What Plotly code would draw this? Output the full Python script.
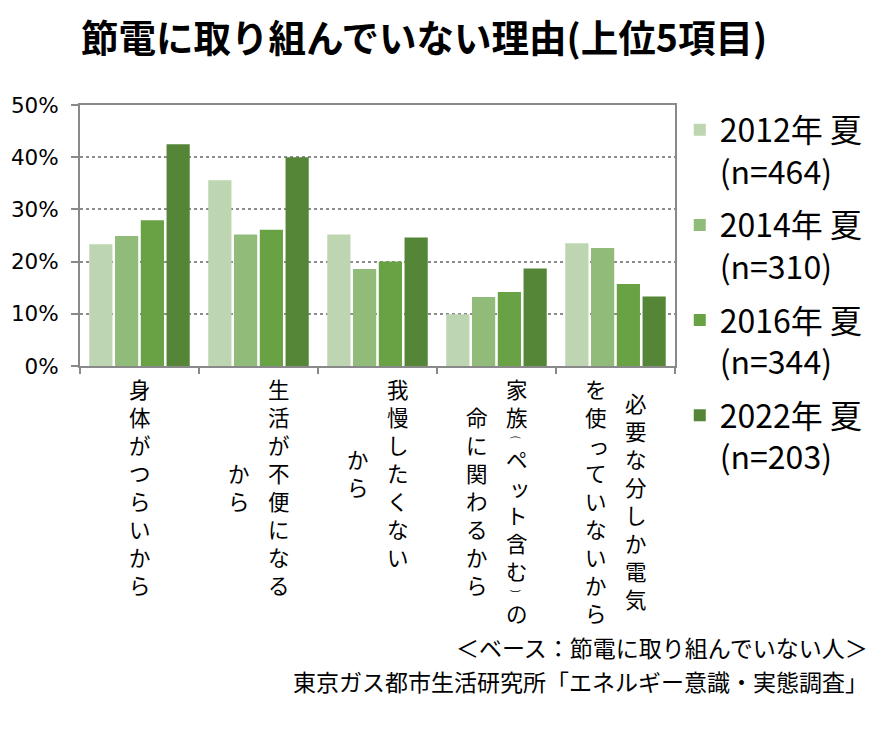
import plotly.graph_objects as go

# reasons (columns of the vertical label are split by "|", first column is the rightmost)
categories = [
    "身体がつらいから",
    "生活が不便になる|から",
    "我慢したくない|から",
    "家族(ペット含む)の|命に関わるから",
    "必要な分しか電気|を使っていないから",
]
series_names = ["2012年 夏<br>(n=464)", "2014年 夏<br>(n=310)",
                "2016年 夏<br>(n=344)", "2022年 夏<br>(n=203)"]
y2012 = [23.3, 35.6, 25.2, 9.9, 23.5]
y2014 = [24.9, 25.2, 18.6, 13.2, 22.6]
y2016 = [27.9, 26.1, 20.0, 14.2, 15.7]
y2022 = [42.5, 40.0, 24.6, 18.7, 13.3]
y_ticks = [0, 10, 20, 30, 40, 50]
y_ticktext = [f"{v}%" for v in y_ticks]

colors = ["#bdd5b0", "#91bb79", "#69a244", "#558536"]
JP = "Noto Sans CJK JP"

fig = go.Figure()
for name, vals, col in zip(series_names, [y2012, y2014, y2016, y2022], colors):
    fig.add_trace(go.Bar(x=categories, y=vals, name=name, legendgroup=name,
                         marker=dict(color=col, line=dict(width=0))))

# vertical (tategaki) category labels, one annotation per character
lab_size = 21.5
pitch = 28
small_kana = "っッゃゅょャュョ"
parens = "()"


def advance(ch):
    return 14 if ch in parens else pitch


annotations = []
for cat in categories:
    cols = cat.split("|")
    heights = [sum(advance(c) for c in col) for col in cols]
    block = max(heights)
    n = len(cols)
    for j, col in enumerate(cols):
        xs = ((n - 1) / 2 - j) * 40
        pos = 8 + (block - heights[j]) / 2
        for ch in col:
            a = advance(ch)
            annotations.append(dict(
                x=cat, xref="x", y=0, yref="paper", yanchor="middle",
                xanchor="center", showarrow=False, text=ch, borderpad=0,
                textangle=90 if ch in parens else 0,
                xshift=xs + (3 if ch in small_kana else 0),
                yshift=-(pos + a / 2),
                font=dict(family=JP, size=10.5 if ch in parens else lab_size,
                          color="#000000")))
            pos += a

annotations.append(dict(
    text="節電に取り組んでいない理由(上位5項目)", xref="paper", yref="paper",
    x=-0.002, y=1, xanchor="left", yanchor="middle", yshift=70, showarrow=False,
    font=dict(family=JP, size=37.5, color="#000000", weight="bold")))
annotations.append(dict(
    text="＜ベース：節電に取り組んでいない人＞", xref="paper", yref="paper",
    x=1, y=0, xanchor="right", yanchor="middle", xshift=195, yshift=-281,
    showarrow=False, font=dict(family=JP, size=23, color="#000000")))
annotations.append(dict(
    text="東京ガス都市生活研究所「エネルギー意識・実態調査」", xref="paper", yref="paper",
    x=1, y=0, xanchor="right", yanchor="middle", xshift=195, yshift=-315,
    showarrow=False, font=dict(family=JP, size=23, color="#000000")))

# the page body adds an 8px margin, so the figure is 8px smaller on each axis
fig.update_layout(
    width=888, height=722, autosize=False,
    margin=dict(l=72, r=221, t=97, b=364, autoexpand=False),
    paper_bgcolor="white", plot_bgcolor="white",
    barmode="group", bargap=0.134, bargroupgap=0.1,
    annotations=annotations,
    legend=dict(x=1.008, y=1.01, xanchor="left", yanchor="top", maxheight=600,
                font=dict(family=JP, size=32, color="#000000"),
                traceorder="grouped", tracegroupgap=9, valign="top"),
    xaxis=dict(showticklabels=False, ticks="outside", tickson="boundaries",
               ticklen=6, tickcolor="#898989", tickwidth=1.5,
               showline=True, linecolor="#898989", linewidth=2, mirror=True),
    yaxis=dict(range=[0, 50], tickvals=y_ticks, ticktext=y_ticktext,
               ticks="outside", ticklen=7, tickcolor="#898989", tickwidth=1.5,
               ticklabelstandoff=8,
               tickfont=dict(family="DejaVu Sans", size=21.5, color="#000000"),
               showline=True, linecolor="#898989", linewidth=2, mirror=True,
               showgrid=True, gridcolor="#8c8c8c", griddash="dot", gridwidth=1.5,
               zeroline=False),
)

fig.write_html("out.html")
